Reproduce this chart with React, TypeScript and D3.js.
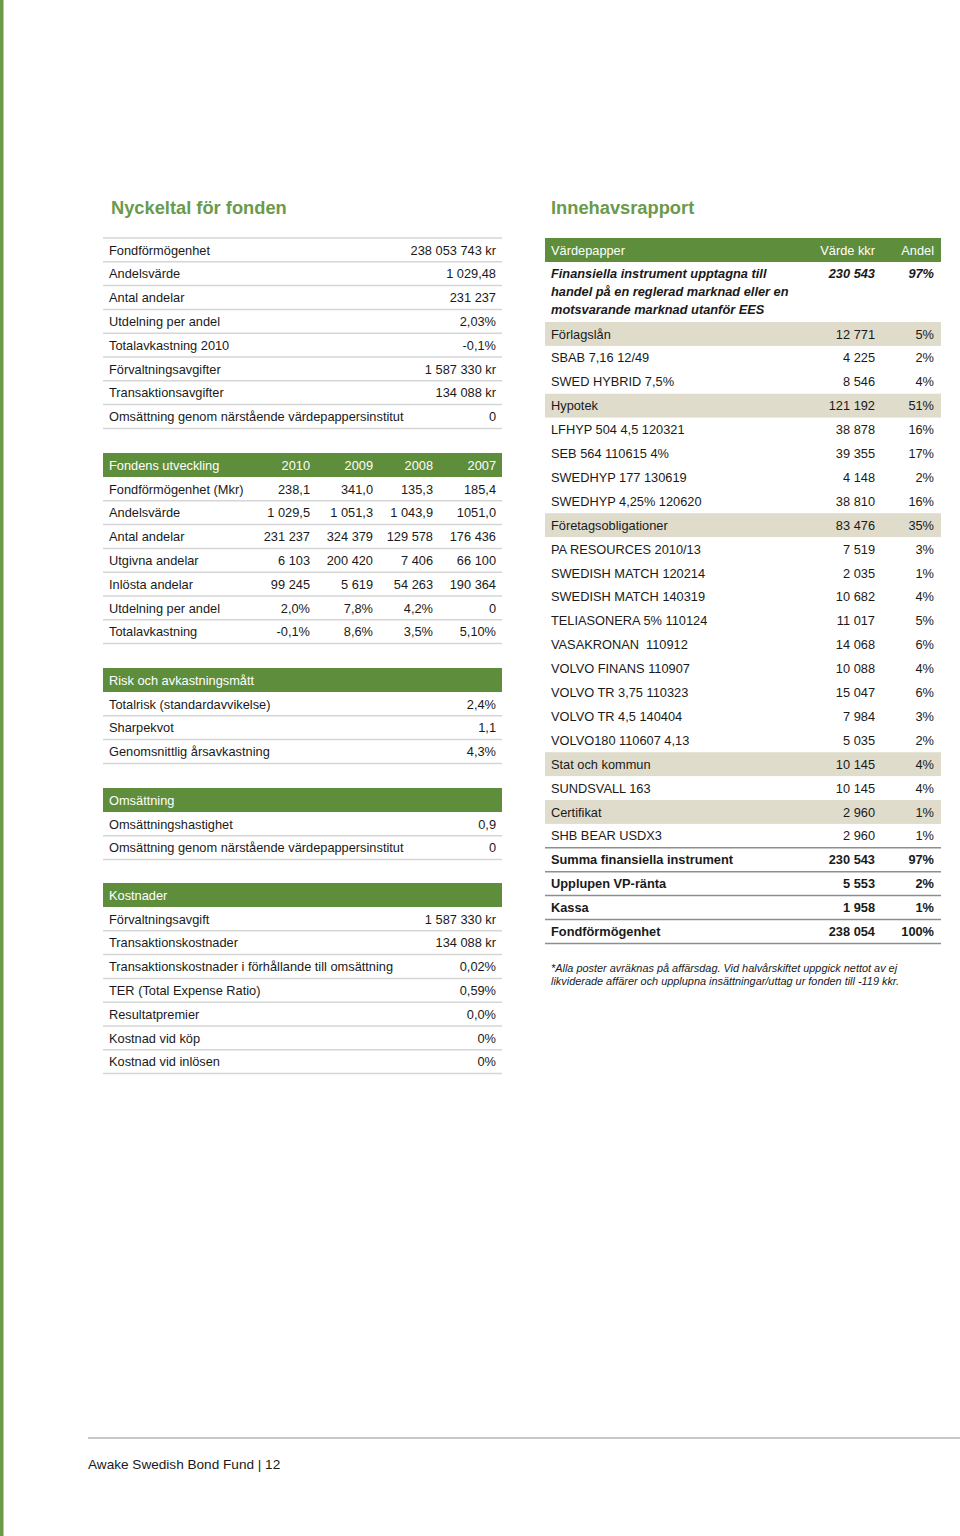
import React from 'react'
import * as d3 from 'd3'

const GREEN = '#5e8d3c'
const TITLE_GREEN = '#6a9a4b'
const BEIGE = '#dfdccb'
const LINE = '#d6d6d6'
const DARK_LINE = '#8e8e8e'
const FONT = '"Liberation Sans", Arial, Helvetica, sans-serif'
const FS = 12.8
const ROW = 23.8

// Nyckeltal för fonden
const nyckelLabels = [
  'Fondförmögenhet',
  'Andelsvärde',
  'Antal andelar',
  'Utdelning per andel',
  'Totalavkastning 2010',
  'Förvaltningsavgifter',
  'Transaktionsavgifter',
  'Omsättning genom närstående värdepappersinstitut',
]
const nyckelValues = ['238 053 743 kr', '1 029,48', '231 237', '2,03%', '-0,1%', '1 587 330 kr', '134 088 kr', '0']

// Fondens utveckling
const utvYears = ['2010', '2009', '2008', '2007']
const utvLabels = [
  'Fondförmögenhet (Mkr)',
  'Andelsvärde',
  'Antal andelar',
  'Utgivna andelar',
  'Inlösta andelar',
  'Utdelning per andel',
  'Totalavkastning',
]
const utvValues = [
  ['238,1', '341,0', '135,3', '185,4'],
  ['1 029,5', '1 051,3', '1 043,9', '1051,0'],
  ['231 237', '324 379', '129 578', '176 436'],
  ['6 103', '200 420', '7 406', '66 100'],
  ['99 245', '5 619', '54 263', '190 364'],
  ['2,0%', '7,8%', '4,2%', '0'],
  ['-0,1%', '8,6%', '3,5%', '5,10%'],
]

const riskLabels = ['Totalrisk (standardavvikelse)', 'Sharpekvot', 'Genomsnittlig årsavkastning']
const riskValues = ['2,4%', '1,1', '4,3%']

const omsLabels = ['Omsättningshastighet', 'Omsättning genom närstående värdepappersinstitut']
const omsValues = ['0,9', '0']

const kostLabels = [
  'Förvaltningsavgift',
  'Transaktionskostnader',
  'Transaktionskostnader i förhållande till omsättning',
  'TER (Total Expense Ratio)',
  'Resultatpremier',
  'Kostnad vid köp',
  'Kostnad vid inlösen',
]
const kostValues = ['1 587 330 kr', '134 088 kr', '0,02%', '0,59%', '0,0%', '0%', '0%']

// Innehavsrapport
const finLines = [
  'Finansiella instrument upptagna till',
  'handel på en reglerad marknad eller en',
  'motsvarande marknad utanför EES',
]
const finValue = '230 543'
const finShare = '97%'

const holdNames = [
  'Förlagslån', 'SBAB 7,16 12/49', 'SWED HYBRID 7,5%',
  'Hypotek', 'LFHYP 504 4,5 120321', 'SEB 564 110615 4%', 'SWEDHYP 177 130619', 'SWEDHYP 4,25% 120620',
  'Företagsobligationer', 'PA RESOURCES 2010/13', 'SWEDISH MATCH 120214', 'SWEDISH MATCH 140319',
  'TELIASONERA 5% 110124', 'VASAKRONAN  110912', 'VOLVO FINANS 110907', 'VOLVO TR 3,75 110323',
  'VOLVO TR 4,5 140404', 'VOLVO180 110607 4,13',
  'Stat och kommun', 'SUNDSVALL 163',
  'Certifikat', 'SHB BEAR USDX3',
  'Summa finansiella instrument', 'Upplupen VP-ränta', 'Kassa', 'Fondförmögenhet',
]
const holdValues = [
  '12 771', '4 225', '8 546',
  '121 192', '38 878', '39 355', '4 148', '38 810',
  '83 476', '7 519', '2 035', '10 682', '11 017', '14 068', '10 088', '15 047', '7 984', '5 035',
  '10 145', '10 145',
  '2 960', '2 960',
  '230 543', '5 553', '1 958', '238 054',
]
const holdShares = [
  '5%', '2%', '4%',
  '51%', '16%', '17%', '2%', '16%',
  '35%', '3%', '1%', '4%', '5%', '6%', '4%', '6%', '3%', '2%',
  '4%', '4%',
  '1%', '1%',
  '97%', '2%', '1%', '100%',
]
const holdKinds = [
  'cat', 'item', 'item',
  'cat', 'item', 'item', 'item', 'item',
  'cat', 'item', 'item', 'item', 'item', 'item', 'item', 'item', 'item', 'item',
  'cat', 'item',
  'cat', 'item',
  'total', 'total', 'total', 'total',
]

const footnote = [
  '*Alla poster avräknas på affärsdag. Vid halvårskiftet uppgick nettot av ej',
  'likviderade affärer och upplupna insättningar/uttag ur fonden till -119 kkr.',
]

const L_X0 = 103
const L_X1 = 502
const L_TEXT = 109
const L_RIGHT = 496

function KeyValueTable({ top, header, labels, values, topLine }: any) {
  const bodyTop = header ? top + 24 : top
  const y = d3.scaleLinear().domain([0, labels.length]).range([bodyTop, bodyTop + labels.length * ROW])
  return (
    <g>
      {header && (
        <g>
          <rect x={L_X0} y={top} width={L_X1 - L_X0} height={24} fill={GREEN} />
          <text x={L_TEXT} y={top + 16.5} fill="#fff">{header}</text>
        </g>
      )}
      {topLine && <line x1={L_X0} x2={L_X1} y1={top} y2={top} stroke={LINE} strokeWidth={1.5} />}
      {labels.map((lab: string, i: number) => (
        <g key={i}>
          <text x={L_TEXT} y={y(i) + 16.5}>{lab}</text>
          <text x={L_RIGHT} y={y(i) + 16.5} textAnchor="end">{values[i]}</text>
          <line x1={L_X0} x2={L_X1} y1={y(i + 1)} y2={y(i + 1)} stroke={LINE} strokeWidth={1.5} />
        </g>
      ))}
    </g>
  )
}

function UtvecklingTable({ top }: { top: number }) {
  const col = d3.scaleOrdinal<string, number>().domain(utvYears).range([310, 373, 433, 496])
  const bodyTop = top + 24
  const y = d3.scaleLinear().domain([0, utvLabels.length]).range([bodyTop, bodyTop + utvLabels.length * ROW])
  return (
    <g>
      <rect x={L_X0} y={top} width={L_X1 - L_X0} height={24} fill={GREEN} />
      <text x={L_TEXT} y={top + 16.5} fill="#fff">Fondens utveckling</text>
      {utvYears.map(yr => (
        <text key={yr} x={col(yr)} y={top + 16.5} fill="#fff" textAnchor="end">{yr}</text>
      ))}
      {utvLabels.map((lab, i) => (
        <g key={i}>
          <text x={L_TEXT} y={y(i) + 16.5}>{lab}</text>
          {utvYears.map((yr, j) => (
            <text key={yr} x={col(yr)} y={y(i) + 16.5} textAnchor="end">{utvValues[i][j]}</text>
          ))}
          <line x1={L_X0} x2={L_X1} y1={y(i + 1)} y2={y(i + 1)} stroke={LINE} strokeWidth={1.5} />
        </g>
      ))}
    </g>
  )
}

function HoldingsTable() {
  const x0 = 545
  const x1 = 941
  const tx = 551
  const vx = 875
  const sx = 934
  const top = 238
  const finTop = top + 24
  const rowsTop = 322
  const y = d3.scaleLinear().domain([0, holdNames.length]).range([rowsTop, rowsTop + holdNames.length * 23.9])
  const lineY = d3.scaleLinear().domain([0, 1]).range([finTop + 16, finTop + 34])
  return (
    <g>
      <rect x={x0} y={top} width={x1 - x0} height={24} fill={GREEN} />
      <text x={tx} y={top + 16.5} fill="#fff">Värdepapper</text>
      <text x={vx} y={top + 16.5} fill="#fff" textAnchor="end">Värde kkr</text>
      <text x={sx} y={top + 16.5} fill="#fff" textAnchor="end">Andel</text>
      <g fontStyle="italic" fontWeight="bold">
        {finLines.map((t, i) => (
          <text key={i} x={tx} y={lineY(i)}>{t}</text>
        ))}
        <text x={vx} y={lineY(0)} textAnchor="end">{finValue}</text>
        <text x={sx} y={lineY(0)} textAnchor="end">{finShare}</text>
      </g>
      {holdNames.map((name, i) => {
        const kind = holdKinds[i]
        return (
          <g key={i} fontWeight={kind === 'total' ? 'bold' : 'normal'}>
            {kind === 'cat' && <rect x={x0} y={y(i)} width={x1 - x0} height={y(i + 1) - y(i)} fill={BEIGE} />}
            {kind === 'total' && (
              <line x1={x0} x2={x1} y1={y(i)} y2={y(i)} stroke={DARK_LINE} strokeWidth={1.5} />
            )}
            <text x={tx} y={y(i) + 16.5} style={{ whiteSpace: 'pre' }}>{name}</text>
            <text x={vx} y={y(i) + 16.5} textAnchor="end">{holdValues[i]}</text>
            <text x={sx} y={y(i) + 16.5} textAnchor="end">{holdShares[i]}</text>
          </g>
        )
      })}
      <line
        x1={x0}
        x2={x1}
        y1={y(holdNames.length)}
        y2={y(holdNames.length)}
        stroke={DARK_LINE}
        strokeWidth={1.5}
      />
      <g fontStyle="italic" fontSize={10.9}>
        {footnote.map((t, i) => (
          <text key={i} x={tx} y={972 + i * 13.3}>{t}</text>
        ))}
      </g>
    </g>
  )
}

export default function App() {
  return (
    <svg
      width={960}
      height={1536}
      style={{ position: 'absolute', left: 0, top: 0, display: 'block', background: '#fff' }}
      fontFamily={FONT}
      fontSize={FS}
      fill="#1a1a1a"
    >
      <rect x={0} y={0} width={3.5} height={1536} fill="#6a9a48" />
      <text x={111} y={214} fontSize={18.3} fontWeight="bold" fill={TITLE_GREEN}>Nyckeltal för fonden</text>
      <text x={551} y={214} fontSize={18.3} fontWeight="bold" fill={TITLE_GREEN}>Innehavsrapport</text>

      <KeyValueTable top={238} labels={nyckelLabels} values={nyckelValues} topLine />
      <UtvecklingTable top={453} />
      <KeyValueTable top={668} header="Risk och avkastningsmått" labels={riskLabels} values={riskValues} />
      <KeyValueTable top={788} header="Omsättning" labels={omsLabels} values={omsValues} />
      <KeyValueTable top={883} header="Kostnader" labels={kostLabels} values={kostValues} />

      <HoldingsTable />

      <line x1={88} x2={960} y1={1438} y2={1438} stroke="#c8c8c8" strokeWidth={2} />
      <text x={88} y={1469} fontSize={13.6}>Awake Swedish Bond Fund | 12</text>
    </svg>
  )
}
